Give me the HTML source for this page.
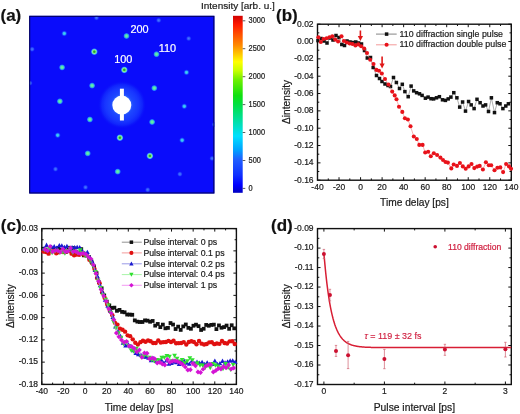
<!DOCTYPE html><html><head><meta charset="utf-8"><style>html,body{margin:0;padding:0;background:#fff;width:520px;height:414px;overflow:hidden;font-family:"Liberation Sans",sans-serif}svg{display:block;filter:blur(0.35px)}</style></head><body>
<svg width="520" height="414" viewBox="0 0 520 414" font-family="&apos;Liberation Sans&apos;, sans-serif">
<rect width="520" height="414" fill="#fff"/>
<defs>
<linearGradient id="cb" x1="0" y1="0" x2="0" y2="1">
<stop offset="0" stop-color="#d00000"/>
<stop offset="0.05" stop-color="#ff1a00"/>
<stop offset="0.11" stop-color="#ff5500"/>
<stop offset="0.165" stop-color="#ff8800"/>
<stop offset="0.22" stop-color="#ffcc00"/>
<stop offset="0.26" stop-color="#ffff00"/>
<stop offset="0.31" stop-color="#c8ff00"/>
<stop offset="0.36" stop-color="#70f000"/>
<stop offset="0.45" stop-color="#10e010"/>
<stop offset="0.5" stop-color="#00e040"/>
<stop offset="0.59" stop-color="#00e0a0"/>
<stop offset="0.68" stop-color="#00e0ff"/>
<stop offset="0.76" stop-color="#00a0ff"/>
<stop offset="0.81" stop-color="#2060ff"/>
<stop offset="0.9" stop-color="#1030ff"/>
<stop offset="0.956" stop-color="#0000ff"/>
<stop offset="1" stop-color="#0000c0"/>
</linearGradient>
<radialGradient id="sR"><stop offset="0" stop-color="#109a30"/><stop offset="0.22" stop-color="#30b040"/><stop offset="0.45" stop-color="#90f080"/><stop offset="0.68" stop-color="#40b0ff"/><stop offset="1" stop-color="#0a14ff" stop-opacity="0"/></radialGradient>
<radialGradient id="sG"><stop offset="0" stop-color="#70f0a0"/><stop offset="0.4" stop-color="#50e0b0"/><stop offset="0.7" stop-color="#2080ff"/><stop offset="1" stop-color="#0a14ff" stop-opacity="0"/></radialGradient>
<radialGradient id="sL"><stop offset="0" stop-color="#48e0d8"/><stop offset="0.4" stop-color="#30b0ff"/><stop offset="1" stop-color="#0a14ff" stop-opacity="0"/></radialGradient>
<radialGradient id="sF"><stop offset="0" stop-color="#4a7cff"/><stop offset="0.5" stop-color="#2a50ff"/><stop offset="1" stop-color="#0a14ff" stop-opacity="0"/></radialGradient>
<radialGradient id="glow"><stop offset="0.38" stop-color="#3064ff"/><stop offset="0.46" stop-color="#1e48ff"/><stop offset="0.7" stop-color="#1836ff"/><stop offset="0.85" stop-color="#1024fc"/><stop offset="1" stop-color="#0a10fa" stop-opacity="0"/></radialGradient>
</defs>
<text x="0.5" y="21.1" font-size="17" text-anchor="start" fill="#111" stroke="#111" stroke-width="0.2" font-weight="bold">(a)</text>
<rect x="29.2" y="15.8" width="185.2" height="177.7" fill="#0a0cfb"/>
<rect x="122.1" y="103.8" width="0" height="0"/>
<circle cx="122" cy="104.8" r="24" fill="url(#glow)"/>
<g clip-path="url(#sqclip)">
<circle cx="147.7" cy="189.8" r="3.0" fill="url(#sF)"/>
<circle cx="179.9" cy="174.1" r="3.0" fill="url(#sF)"/>
<circle cx="212.1" cy="158.4" r="3.0" fill="url(#sF)"/>
<circle cx="85.5" cy="187.3" r="3.0" fill="url(#sF)"/>
<circle cx="117.7" cy="171.6" r="3.5" fill="url(#sG)"/>
<circle cx="149.9" cy="155.9" r="3.9" fill="url(#sR)"/>
<circle cx="182.1" cy="140.2" r="3.3" fill="url(#sL)"/>
<circle cx="214.3" cy="124.5" r="3.0" fill="url(#sF)"/>
<circle cx="55.5" cy="169.1" r="3.0" fill="url(#sF)"/>
<circle cx="87.7" cy="153.4" r="3.5" fill="url(#sG)"/>
<circle cx="119.9" cy="137.7" r="3.9" fill="url(#sR)"/>
<circle cx="152.1" cy="122" r="3.5" fill="url(#sG)"/>
<circle cx="184.3" cy="106.3" r="3.3" fill="url(#sL)"/>
<circle cx="57.7" cy="135.2" r="3.3" fill="url(#sL)"/>
<circle cx="89.9" cy="119.5" r="3.5" fill="url(#sG)"/>
<circle cx="154.3" cy="88.1" r="3.5" fill="url(#sG)"/>
<circle cx="186.5" cy="72.4" r="3.3" fill="url(#sL)"/>
<circle cx="59.9" cy="101.3" r="3.5" fill="url(#sG)"/>
<circle cx="92.1" cy="85.6" r="3.5" fill="url(#sG)"/>
<circle cx="124.3" cy="69.9" r="3.9" fill="url(#sR)"/>
<circle cx="156.5" cy="54.2" r="3.5" fill="url(#sG)"/>
<circle cx="188.7" cy="38.5" r="3.0" fill="url(#sF)"/>
<circle cx="29.9" cy="83.1" r="3.0" fill="url(#sF)"/>
<circle cx="62.1" cy="67.4" r="3.5" fill="url(#sG)"/>
<circle cx="94.3" cy="51.7" r="3.9" fill="url(#sR)"/>
<circle cx="126.5" cy="36" r="3.5" fill="url(#sG)"/>
<circle cx="158.7" cy="20.3" r="3.0" fill="url(#sF)"/>
<circle cx="32.1" cy="49.2" r="3.0" fill="url(#sF)"/>
<circle cx="64.3" cy="33.5" r="3.3" fill="url(#sL)"/>
<circle cx="96.5" cy="17.8" r="3.0" fill="url(#sF)"/>
</g>
<defs><clipPath id="sqclip"><rect x="29.2" y="15.8" width="185.2" height="177.7"/></clipPath></defs>
<rect x="119.9" y="88.7" width="4" height="31.8" fill="#fff"/>
<circle cx="121.8" cy="105.1" r="9.5" fill="#fff"/>
<rect x="29.7" y="16.3" width="184.2" height="176.7" fill="none" stroke="#000050" stroke-width="1"/>
<text x="130.5" y="33.4" font-size="10.9" text-anchor="start" fill="#fff" stroke="#fff" stroke-width="0.2" >200</text>
<text x="158.8" y="52.3" font-size="10.9" text-anchor="start" fill="#fff" stroke="#fff" stroke-width="0.2" >110</text>
<text x="114.2" y="63" font-size="10.9" text-anchor="start" fill="#fff" stroke="#fff" stroke-width="0.2" >100</text>
<rect x="233" y="15.8" width="9.7" height="177" fill="url(#cb)"/>
<path d="M242.7 20.8h2.6M242.7 48.7h2.6M242.7 76.7h2.6M242.7 104.6h2.6M242.7 132.5h2.6M242.7 160.5h2.6M242.7 188.4h2.6" stroke="#333" stroke-width="0.8"/>
<text transform="translate(248.6 23.4) scale(1 1.1)" font-size="7.4" text-anchor="start" fill="#222" stroke="#222" stroke-width="0.2" >3000</text>
<text transform="translate(248.6 51.3) scale(1 1.1)" font-size="7.4" text-anchor="start" fill="#222" stroke="#222" stroke-width="0.2" >2500</text>
<text transform="translate(248.6 79.3) scale(1 1.1)" font-size="7.4" text-anchor="start" fill="#222" stroke="#222" stroke-width="0.2" >2000</text>
<text transform="translate(248.6 107.2) scale(1 1.1)" font-size="7.4" text-anchor="start" fill="#222" stroke="#222" stroke-width="0.2" >1500</text>
<text transform="translate(248.6 135.1) scale(1 1.1)" font-size="7.4" text-anchor="start" fill="#222" stroke="#222" stroke-width="0.2" >1000</text>
<text transform="translate(248.6 163.1) scale(1 1.1)" font-size="7.4" text-anchor="start" fill="#222" stroke="#222" stroke-width="0.2" >500</text>
<text transform="translate(248.6 191) scale(1 1.1)" font-size="7.4" text-anchor="start" fill="#222" stroke="#222" stroke-width="0.2" >0</text>
<text transform="translate(201 9.3) scale(1 0.9)" font-size="10" text-anchor="start" fill="#1a1a1a" stroke="#1a1a1a" stroke-width="0.2" >Intensity [arb. u.]</text>
<path d="M317.5 180.2v-3M317.5 24.2v3M339.03 180.2v-3M339.03 24.2v3M360.57 180.2v-3M360.57 24.2v3M382.1 180.2v-3M382.1 24.2v3M403.63 180.2v-3M403.63 24.2v3M425.17 180.2v-3M425.17 24.2v3M446.7 180.2v-3M446.7 24.2v3M468.23 180.2v-3M468.23 24.2v3M489.77 180.2v-3M489.77 24.2v3M511.3 180.2v-3M511.3 24.2v3M328.27 180.2v-1.8M328.27 24.2v1.8M349.8 180.2v-1.8M349.8 24.2v1.8M371.33 180.2v-1.8M371.33 24.2v1.8M392.87 180.2v-1.8M392.87 24.2v1.8M414.4 180.2v-1.8M414.4 24.2v1.8M435.93 180.2v-1.8M435.93 24.2v1.8M457.47 180.2v-1.8M457.47 24.2v1.8M479 180.2v-1.8M479 24.2v1.8M500.53 180.2v-1.8M500.53 24.2v1.8M317.5 24.2h3M511.3 24.2h-3M317.5 41.53h3M511.3 41.53h-3M317.5 58.87h3M511.3 58.87h-3M317.5 76.2h3M511.3 76.2h-3M317.5 93.53h3M511.3 93.53h-3M317.5 110.87h3M511.3 110.87h-3M317.5 128.2h3M511.3 128.2h-3M317.5 145.53h3M511.3 145.53h-3M317.5 162.87h3M511.3 162.87h-3M317.5 180.2h3M511.3 180.2h-3M317.5 32.87h1.8M511.3 32.87h-1.8M317.5 50.2h1.8M511.3 50.2h-1.8M317.5 67.53h1.8M511.3 67.53h-1.8M317.5 84.87h1.8M511.3 84.87h-1.8M317.5 102.2h1.8M511.3 102.2h-1.8M317.5 119.53h1.8M511.3 119.53h-1.8M317.5 136.87h1.8M511.3 136.87h-1.8M317.5 154.2h1.8M511.3 154.2h-1.8M317.5 171.53h1.8M511.3 171.53h-1.8" stroke="#111" stroke-width="1" fill="none"/>
<rect x="317.5" y="24.2" width="193.8" height="156" fill="none" stroke="#111" stroke-width="1.4"/>
<text transform="translate(317.5 190) scale(1 1.1)" font-size="8.5" text-anchor="middle" fill="#1a1a1a" stroke="#1a1a1a" stroke-width="0.2" >-40</text>
<text transform="translate(339.03 190) scale(1 1.1)" font-size="8.5" text-anchor="middle" fill="#1a1a1a" stroke="#1a1a1a" stroke-width="0.2" >-20</text>
<text transform="translate(360.57 190) scale(1 1.1)" font-size="8.5" text-anchor="middle" fill="#1a1a1a" stroke="#1a1a1a" stroke-width="0.2" >0</text>
<text transform="translate(382.1 190) scale(1 1.1)" font-size="8.5" text-anchor="middle" fill="#1a1a1a" stroke="#1a1a1a" stroke-width="0.2" >20</text>
<text transform="translate(403.63 190) scale(1 1.1)" font-size="8.5" text-anchor="middle" fill="#1a1a1a" stroke="#1a1a1a" stroke-width="0.2" >40</text>
<text transform="translate(425.17 190) scale(1 1.1)" font-size="8.5" text-anchor="middle" fill="#1a1a1a" stroke="#1a1a1a" stroke-width="0.2" >60</text>
<text transform="translate(446.7 190) scale(1 1.1)" font-size="8.5" text-anchor="middle" fill="#1a1a1a" stroke="#1a1a1a" stroke-width="0.2" >80</text>
<text transform="translate(468.23 190) scale(1 1.1)" font-size="8.5" text-anchor="middle" fill="#1a1a1a" stroke="#1a1a1a" stroke-width="0.2" >100</text>
<text transform="translate(489.77 190) scale(1 1.1)" font-size="8.5" text-anchor="middle" fill="#1a1a1a" stroke="#1a1a1a" stroke-width="0.2" >120</text>
<text transform="translate(511.3 190) scale(1 1.1)" font-size="8.5" text-anchor="middle" fill="#1a1a1a" stroke="#1a1a1a" stroke-width="0.2" >140</text>
<text transform="translate(313.6 26.5) scale(1 1.07)" font-size="8.5" text-anchor="end" fill="#1a1a1a" stroke="#1a1a1a" stroke-width="0.2" >0.02</text>
<text transform="translate(313.6 43.83) scale(1 1.07)" font-size="8.5" text-anchor="end" fill="#1a1a1a" stroke="#1a1a1a" stroke-width="0.2" >0.00</text>
<text transform="translate(313.6 61.17) scale(1 1.07)" font-size="8.5" text-anchor="end" fill="#1a1a1a" stroke="#1a1a1a" stroke-width="0.2" >-0.02</text>
<text transform="translate(313.6 78.5) scale(1 1.07)" font-size="8.5" text-anchor="end" fill="#1a1a1a" stroke="#1a1a1a" stroke-width="0.2" >-0.04</text>
<text transform="translate(313.6 95.83) scale(1 1.07)" font-size="8.5" text-anchor="end" fill="#1a1a1a" stroke="#1a1a1a" stroke-width="0.2" >-0.06</text>
<text transform="translate(313.6 113.17) scale(1 1.07)" font-size="8.5" text-anchor="end" fill="#1a1a1a" stroke="#1a1a1a" stroke-width="0.2" >-0.08</text>
<text transform="translate(313.6 130.5) scale(1 1.07)" font-size="8.5" text-anchor="end" fill="#1a1a1a" stroke="#1a1a1a" stroke-width="0.2" >-0.10</text>
<text transform="translate(313.6 147.83) scale(1 1.07)" font-size="8.5" text-anchor="end" fill="#1a1a1a" stroke="#1a1a1a" stroke-width="0.2" >-0.12</text>
<text transform="translate(313.6 165.17) scale(1 1.07)" font-size="8.5" text-anchor="end" fill="#1a1a1a" stroke="#1a1a1a" stroke-width="0.2" >-0.14</text>
<text transform="translate(313.6 182.5) scale(1 1.07)" font-size="8.5" text-anchor="end" fill="#1a1a1a" stroke="#1a1a1a" stroke-width="0.2" >-0.16</text>
<text x="414.4" y="205.9" font-size="10.2" text-anchor="middle" fill="#1a1a1a" stroke="#1a1a1a" stroke-width="0.2" >Time delay [ps]</text>
<text transform="translate(289.7 101.9) rotate(-90)" font-size="10.2" text-anchor="middle" fill="#1a1a1a" stroke="#1a1a1a" stroke-width="0.2">Δintensity</text>
<text x="276" y="21.4" font-size="17" text-anchor="start" fill="#111" stroke="#111" stroke-width="0.2" font-weight="bold">(b)</text>
<path d="M318 40.6 L321 38.5 L324 41 L327 43 L330 38 L333 40 L336 35.5 L339 37.5 L341.8 44.5 L344.5 45.5 L347 41 L350 42 L353 42.5 L355.8 42 L358.6 43 L361.5 44 L364.5 50.5 L367.3 58 L370.5 57.5 L373.2 67.5 L376.5 75.5 L379.5 78.5 L382 81.5 L385 84 L388 85.5 L390.5 86.5 L393.5 77.5 L396.4 82.5 L399.5 88.5 L402.3 84.3 L404.9 91.6 L408.2 96.7 L411.1 86.1 L413.7 90.9 L416.6 92.7 L419.5 93.8 L422.1 95.4 L425.4 98.2 L428.1 97.1 L431 98.7 L433.6 98.9 L436.5 97.8 L439.4 96.7 L442.5 99.8 L445.4 100.4 L448.2 98.9 L450.9 97.1 L453.8 92.7 L456.9 97.8 L459.7 107.1 L462.6 102 L465.5 111.1 L468.6 101.5 L471.2 104.9 L474.1 108.6 L477 99.3 L480.1 102.7 L483 106 L485.6 104.9 L488.5 111.5 L491.4 97.8 L494.5 112.6 L497.3 102.7 L500 103.8 L502.9 108.6 L505.8 106 L508.4 103.8" fill="none" stroke="#777" stroke-width="0.6"/>
<rect x="316.25" y="38.85" width="3.5" height="3.5" fill="#111"/><rect x="319.25" y="36.75" width="3.5" height="3.5" fill="#111"/><rect x="322.25" y="39.25" width="3.5" height="3.5" fill="#111"/><rect x="325.25" y="41.25" width="3.5" height="3.5" fill="#111"/><rect x="328.25" y="36.25" width="3.5" height="3.5" fill="#111"/><rect x="331.25" y="38.25" width="3.5" height="3.5" fill="#111"/><rect x="334.25" y="33.75" width="3.5" height="3.5" fill="#111"/><rect x="337.25" y="35.75" width="3.5" height="3.5" fill="#111"/><rect x="340.05" y="42.75" width="3.5" height="3.5" fill="#111"/><rect x="342.75" y="43.75" width="3.5" height="3.5" fill="#111"/><rect x="345.25" y="39.25" width="3.5" height="3.5" fill="#111"/><rect x="348.25" y="40.25" width="3.5" height="3.5" fill="#111"/><rect x="351.25" y="40.75" width="3.5" height="3.5" fill="#111"/><rect x="354.05" y="40.25" width="3.5" height="3.5" fill="#111"/><rect x="356.85" y="41.25" width="3.5" height="3.5" fill="#111"/><rect x="359.75" y="42.25" width="3.5" height="3.5" fill="#111"/><rect x="362.75" y="48.75" width="3.5" height="3.5" fill="#111"/><rect x="365.55" y="56.25" width="3.5" height="3.5" fill="#111"/><rect x="368.75" y="55.75" width="3.5" height="3.5" fill="#111"/><rect x="371.45" y="65.75" width="3.5" height="3.5" fill="#111"/><rect x="374.75" y="73.75" width="3.5" height="3.5" fill="#111"/><rect x="377.75" y="76.75" width="3.5" height="3.5" fill="#111"/><rect x="380.25" y="79.75" width="3.5" height="3.5" fill="#111"/><rect x="383.25" y="82.25" width="3.5" height="3.5" fill="#111"/><rect x="386.25" y="83.75" width="3.5" height="3.5" fill="#111"/><rect x="388.75" y="84.75" width="3.5" height="3.5" fill="#111"/><rect x="391.75" y="75.75" width="3.5" height="3.5" fill="#111"/><rect x="394.65" y="80.75" width="3.5" height="3.5" fill="#111"/><rect x="397.75" y="86.75" width="3.5" height="3.5" fill="#111"/><rect x="400.55" y="82.55" width="3.5" height="3.5" fill="#111"/><rect x="403.15" y="89.85" width="3.5" height="3.5" fill="#111"/><rect x="406.45" y="94.95" width="3.5" height="3.5" fill="#111"/><rect x="409.35" y="84.35" width="3.5" height="3.5" fill="#111"/><rect x="411.95" y="89.15" width="3.5" height="3.5" fill="#111"/><rect x="414.85" y="90.95" width="3.5" height="3.5" fill="#111"/><rect x="417.75" y="92.05" width="3.5" height="3.5" fill="#111"/><rect x="420.35" y="93.65" width="3.5" height="3.5" fill="#111"/><rect x="423.65" y="96.45" width="3.5" height="3.5" fill="#111"/><rect x="426.35" y="95.35" width="3.5" height="3.5" fill="#111"/><rect x="429.25" y="96.95" width="3.5" height="3.5" fill="#111"/><rect x="431.85" y="97.15" width="3.5" height="3.5" fill="#111"/><rect x="434.75" y="96.05" width="3.5" height="3.5" fill="#111"/><rect x="437.65" y="94.95" width="3.5" height="3.5" fill="#111"/><rect x="440.75" y="98.05" width="3.5" height="3.5" fill="#111"/><rect x="443.65" y="98.65" width="3.5" height="3.5" fill="#111"/><rect x="446.45" y="97.15" width="3.5" height="3.5" fill="#111"/><rect x="449.15" y="95.35" width="3.5" height="3.5" fill="#111"/><rect x="452.05" y="90.95" width="3.5" height="3.5" fill="#111"/><rect x="455.15" y="96.05" width="3.5" height="3.5" fill="#111"/><rect x="457.95" y="105.35" width="3.5" height="3.5" fill="#111"/><rect x="460.85" y="100.25" width="3.5" height="3.5" fill="#111"/><rect x="463.75" y="109.35" width="3.5" height="3.5" fill="#111"/><rect x="466.85" y="99.75" width="3.5" height="3.5" fill="#111"/><rect x="469.45" y="103.15" width="3.5" height="3.5" fill="#111"/><rect x="472.35" y="106.85" width="3.5" height="3.5" fill="#111"/><rect x="475.25" y="97.55" width="3.5" height="3.5" fill="#111"/><rect x="478.35" y="100.95" width="3.5" height="3.5" fill="#111"/><rect x="481.25" y="104.25" width="3.5" height="3.5" fill="#111"/><rect x="483.85" y="103.15" width="3.5" height="3.5" fill="#111"/><rect x="486.75" y="109.75" width="3.5" height="3.5" fill="#111"/><rect x="489.65" y="96.05" width="3.5" height="3.5" fill="#111"/><rect x="492.75" y="110.85" width="3.5" height="3.5" fill="#111"/><rect x="495.55" y="100.95" width="3.5" height="3.5" fill="#111"/><rect x="498.25" y="102.05" width="3.5" height="3.5" fill="#111"/><rect x="501.15" y="106.85" width="3.5" height="3.5" fill="#111"/><rect x="504.05" y="104.25" width="3.5" height="3.5" fill="#111"/><rect x="506.65" y="102.05" width="3.5" height="3.5" fill="#111"/>
<path d="M318.4 37.2 L320.8 42 L323.5 39 L326.6 38.2 L329.5 37.2 L332.3 36.3 L335.2 39.6 L338.1 41.5 L341.5 36.3 L343.9 41 L346.8 42.5 L349.7 43.5 L352.5 44 L355.4 45.4 L358.3 44.4 L361.2 46.3 L364.2 48.5 L367 53 L370.2 59.8 L373.5 64 L376.4 69.9 L379 70.7 L381.8 73.5 L385 79 L388.5 84.5 L392.2 91.6 L394.7 95.4 L396.5 99.2 L399 106.8 L402.3 111.9 L404.9 118.2 L407.9 119.5 L410.5 126.3 L413.8 136.5 L416.8 139 L419.3 144.9 L422.6 144.9 L425.2 152.5 L428.2 151.7 L430.8 156.3 L433.8 153.2 L437.1 155 L440.4 157.6 L443 160 L445.5 162 L447.9 162.6 L451.3 168.4 L453.7 164.5 L457 165.9 L459.9 163 L462.8 166.4 L465.7 168.8 L468.6 166.4 L471.5 164 L474.3 168.1 L477.2 166.6 L479.7 165.9 L482.9 169.5 L485.9 162.3 L488.8 165.2 L491.2 165.2 L494.5 170.3 L497.4 167.8 L500.3 167.4 L503.1 172.1 L506.1 164 L509 166.4 L511 168.8" fill="none" stroke="#f08080" stroke-width="0.6"/>
<circle cx="318.4" cy="37.2" r="2.05" fill="#e8121a"/><circle cx="320.8" cy="42" r="2.05" fill="#e8121a"/><circle cx="323.5" cy="39" r="2.05" fill="#e8121a"/><circle cx="326.6" cy="38.2" r="2.05" fill="#e8121a"/><circle cx="329.5" cy="37.2" r="2.05" fill="#e8121a"/><circle cx="332.3" cy="36.3" r="2.05" fill="#e8121a"/><circle cx="335.2" cy="39.6" r="2.05" fill="#e8121a"/><circle cx="338.1" cy="41.5" r="2.05" fill="#e8121a"/><circle cx="341.5" cy="36.3" r="2.05" fill="#e8121a"/><circle cx="343.9" cy="41" r="2.05" fill="#e8121a"/><circle cx="346.8" cy="42.5" r="2.05" fill="#e8121a"/><circle cx="349.7" cy="43.5" r="2.05" fill="#e8121a"/><circle cx="352.5" cy="44" r="2.05" fill="#e8121a"/><circle cx="355.4" cy="45.4" r="2.05" fill="#e8121a"/><circle cx="358.3" cy="44.4" r="2.05" fill="#e8121a"/><circle cx="361.2" cy="46.3" r="2.05" fill="#e8121a"/><circle cx="364.2" cy="48.5" r="2.05" fill="#e8121a"/><circle cx="367" cy="53" r="2.05" fill="#e8121a"/><circle cx="370.2" cy="59.8" r="2.05" fill="#e8121a"/><circle cx="373.5" cy="64" r="2.05" fill="#e8121a"/><circle cx="376.4" cy="69.9" r="2.05" fill="#e8121a"/><circle cx="379" cy="70.7" r="2.05" fill="#e8121a"/><circle cx="381.8" cy="73.5" r="2.05" fill="#e8121a"/><circle cx="385" cy="79" r="2.05" fill="#e8121a"/><circle cx="388.5" cy="84.5" r="2.05" fill="#e8121a"/><circle cx="392.2" cy="91.6" r="2.05" fill="#e8121a"/><circle cx="394.7" cy="95.4" r="2.05" fill="#e8121a"/><circle cx="396.5" cy="99.2" r="2.05" fill="#e8121a"/><circle cx="399" cy="106.8" r="2.05" fill="#e8121a"/><circle cx="402.3" cy="111.9" r="2.05" fill="#e8121a"/><circle cx="404.9" cy="118.2" r="2.05" fill="#e8121a"/><circle cx="407.9" cy="119.5" r="2.05" fill="#e8121a"/><circle cx="410.5" cy="126.3" r="2.05" fill="#e8121a"/><circle cx="413.8" cy="136.5" r="2.05" fill="#e8121a"/><circle cx="416.8" cy="139" r="2.05" fill="#e8121a"/><circle cx="419.3" cy="144.9" r="2.05" fill="#e8121a"/><circle cx="422.6" cy="144.9" r="2.05" fill="#e8121a"/><circle cx="425.2" cy="152.5" r="2.05" fill="#e8121a"/><circle cx="428.2" cy="151.7" r="2.05" fill="#e8121a"/><circle cx="430.8" cy="156.3" r="2.05" fill="#e8121a"/><circle cx="433.8" cy="153.2" r="2.05" fill="#e8121a"/><circle cx="437.1" cy="155" r="2.05" fill="#e8121a"/><circle cx="440.4" cy="157.6" r="2.05" fill="#e8121a"/><circle cx="443" cy="160" r="2.05" fill="#e8121a"/><circle cx="445.5" cy="162" r="2.05" fill="#e8121a"/><circle cx="447.9" cy="162.6" r="2.05" fill="#e8121a"/><circle cx="451.3" cy="168.4" r="2.05" fill="#e8121a"/><circle cx="453.7" cy="164.5" r="2.05" fill="#e8121a"/><circle cx="457" cy="165.9" r="2.05" fill="#e8121a"/><circle cx="459.9" cy="163" r="2.05" fill="#e8121a"/><circle cx="462.8" cy="166.4" r="2.05" fill="#e8121a"/><circle cx="465.7" cy="168.8" r="2.05" fill="#e8121a"/><circle cx="468.6" cy="166.4" r="2.05" fill="#e8121a"/><circle cx="471.5" cy="164" r="2.05" fill="#e8121a"/><circle cx="474.3" cy="168.1" r="2.05" fill="#e8121a"/><circle cx="477.2" cy="166.6" r="2.05" fill="#e8121a"/><circle cx="479.7" cy="165.9" r="2.05" fill="#e8121a"/><circle cx="482.9" cy="169.5" r="2.05" fill="#e8121a"/><circle cx="485.9" cy="162.3" r="2.05" fill="#e8121a"/><circle cx="488.8" cy="165.2" r="2.05" fill="#e8121a"/><circle cx="491.2" cy="165.2" r="2.05" fill="#e8121a"/><circle cx="494.5" cy="170.3" r="2.05" fill="#e8121a"/><circle cx="497.4" cy="167.8" r="2.05" fill="#e8121a"/><circle cx="500.3" cy="167.4" r="2.05" fill="#e8121a"/><circle cx="503.1" cy="172.1" r="2.05" fill="#e8121a"/><circle cx="506.1" cy="164" r="2.05" fill="#e8121a"/><circle cx="509" cy="166.4" r="2.05" fill="#e8121a"/><circle cx="511" cy="168.8" r="2.05" fill="#e8121a"/>
<path d="M360.4 30.5V38" stroke="#e01818" stroke-width="1.6"/>
<path d="M357.79999999999995 36L360.4 41L363.0 36Z" fill="#e01818"/>
<path d="M382.1 56.5V65.5" stroke="#e01818" stroke-width="1.6"/>
<path d="M379.5 63.5L382.1 68.5L384.70000000000005 63.5Z" fill="#e01818"/>
<path d="M376 34.1h20.7" stroke="#666" stroke-width="0.8"/><rect x="384.85" y="32.35" width="3.5" height="3.5" fill="#111"/>
<path d="M376 44.8h20.7" stroke="#f08080" stroke-width="0.8"/><circle cx="386.6" cy="44.8" r="2.05" fill="#e8121a"/>
<text transform="translate(399.6 36.9) scale(1 1.07)" font-size="8.8" text-anchor="start" fill="#1a1a1a" stroke="#1a1a1a" stroke-width="0.2" >110 diffraction single pulse</text>
<text transform="translate(399.6 47.4) scale(1 1.07)" font-size="8.8" text-anchor="start" fill="#1a1a1a" stroke="#1a1a1a" stroke-width="0.2" >110 diffraction double pulse</text>
<path d="M41.8 384.4v-3M41.8 228.6v3M63.42 384.4v-3M63.42 228.6v3M85.04 384.4v-3M85.04 228.6v3M106.67 384.4v-3M106.67 228.6v3M128.29 384.4v-3M128.29 228.6v3M149.91 384.4v-3M149.91 228.6v3M171.53 384.4v-3M171.53 228.6v3M193.16 384.4v-3M193.16 228.6v3M214.78 384.4v-3M214.78 228.6v3M236.4 384.4v-3M236.4 228.6v3M52.61 384.4v-1.8M52.61 228.6v1.8M74.23 384.4v-1.8M74.23 228.6v1.8M95.86 384.4v-1.8M95.86 228.6v1.8M117.48 384.4v-1.8M117.48 228.6v1.8M139.1 384.4v-1.8M139.1 228.6v1.8M160.72 384.4v-1.8M160.72 228.6v1.8M182.34 384.4v-1.8M182.34 228.6v1.8M203.97 384.4v-1.8M203.97 228.6v1.8M225.59 384.4v-1.8M225.59 228.6v1.8M41.8 228.6h3M236.4 228.6h-3M41.8 250.86h3M236.4 250.86h-3M41.8 273.11h3M236.4 273.11h-3M41.8 295.37h3M236.4 295.37h-3M41.8 317.63h3M236.4 317.63h-3M41.8 339.89h3M236.4 339.89h-3M41.8 362.14h3M236.4 362.14h-3M41.8 384.4h3M236.4 384.4h-3M41.8 239.73h1.8M236.4 239.73h-1.8M41.8 261.99h1.8M236.4 261.99h-1.8M41.8 284.24h1.8M236.4 284.24h-1.8M41.8 306.5h1.8M236.4 306.5h-1.8M41.8 328.76h1.8M236.4 328.76h-1.8M41.8 351.01h1.8M236.4 351.01h-1.8M41.8 373.27h1.8M236.4 373.27h-1.8" stroke="#111" stroke-width="1" fill="none"/>
<rect x="41.8" y="228.6" width="194.6" height="155.8" fill="none" stroke="#111" stroke-width="1.4"/>
<text transform="translate(41.8 394.3) scale(1 1.1)" font-size="8.5" text-anchor="middle" fill="#1a1a1a" stroke="#1a1a1a" stroke-width="0.2" >-40</text>
<text transform="translate(63.42 394.3) scale(1 1.1)" font-size="8.5" text-anchor="middle" fill="#1a1a1a" stroke="#1a1a1a" stroke-width="0.2" >-20</text>
<text transform="translate(85.04 394.3) scale(1 1.1)" font-size="8.5" text-anchor="middle" fill="#1a1a1a" stroke="#1a1a1a" stroke-width="0.2" >0</text>
<text transform="translate(106.67 394.3) scale(1 1.1)" font-size="8.5" text-anchor="middle" fill="#1a1a1a" stroke="#1a1a1a" stroke-width="0.2" >20</text>
<text transform="translate(128.29 394.3) scale(1 1.1)" font-size="8.5" text-anchor="middle" fill="#1a1a1a" stroke="#1a1a1a" stroke-width="0.2" >40</text>
<text transform="translate(149.91 394.3) scale(1 1.1)" font-size="8.5" text-anchor="middle" fill="#1a1a1a" stroke="#1a1a1a" stroke-width="0.2" >60</text>
<text transform="translate(171.53 394.3) scale(1 1.1)" font-size="8.5" text-anchor="middle" fill="#1a1a1a" stroke="#1a1a1a" stroke-width="0.2" >80</text>
<text transform="translate(193.16 394.3) scale(1 1.1)" font-size="8.5" text-anchor="middle" fill="#1a1a1a" stroke="#1a1a1a" stroke-width="0.2" >100</text>
<text transform="translate(214.78 394.3) scale(1 1.1)" font-size="8.5" text-anchor="middle" fill="#1a1a1a" stroke="#1a1a1a" stroke-width="0.2" >120</text>
<text transform="translate(236.4 394.3) scale(1 1.1)" font-size="8.5" text-anchor="middle" fill="#1a1a1a" stroke="#1a1a1a" stroke-width="0.2" >140</text>
<text transform="translate(38.1 230.9) scale(1 1.07)" font-size="8.5" text-anchor="end" fill="#1a1a1a" stroke="#1a1a1a" stroke-width="0.2" >0.03</text>
<text transform="translate(38.1 253.16) scale(1 1.07)" font-size="8.5" text-anchor="end" fill="#1a1a1a" stroke="#1a1a1a" stroke-width="0.2" >0.00</text>
<text transform="translate(38.1 275.41) scale(1 1.07)" font-size="8.5" text-anchor="end" fill="#1a1a1a" stroke="#1a1a1a" stroke-width="0.2" >-0.03</text>
<text transform="translate(38.1 297.67) scale(1 1.07)" font-size="8.5" text-anchor="end" fill="#1a1a1a" stroke="#1a1a1a" stroke-width="0.2" >-0.06</text>
<text transform="translate(38.1 319.93) scale(1 1.07)" font-size="8.5" text-anchor="end" fill="#1a1a1a" stroke="#1a1a1a" stroke-width="0.2" >-0.09</text>
<text transform="translate(38.1 342.19) scale(1 1.07)" font-size="8.5" text-anchor="end" fill="#1a1a1a" stroke="#1a1a1a" stroke-width="0.2" >-0.12</text>
<text transform="translate(38.1 364.44) scale(1 1.07)" font-size="8.5" text-anchor="end" fill="#1a1a1a" stroke="#1a1a1a" stroke-width="0.2" >-0.15</text>
<text transform="translate(38.1 386.7) scale(1 1.07)" font-size="8.5" text-anchor="end" fill="#1a1a1a" stroke="#1a1a1a" stroke-width="0.2" >-0.18</text>
<text x="139" y="411.2" font-size="10.2" text-anchor="middle" fill="#1a1a1a" stroke="#1a1a1a" stroke-width="0.2" >Time delay [ps]</text>
<text transform="translate(14 306.2) rotate(-90)" font-size="10.1" text-anchor="middle" fill="#1a1a1a" stroke="#1a1a1a" stroke-width="0.2">Δintensity</text>
<text x="0.8" y="231.3" font-size="17" text-anchor="start" fill="#111" stroke="#111" stroke-width="0.2" font-weight="bold">(c)</text>
<path d="M43 248.76 L45.55 249.52 L48.1 251.82 L50.65 249.19 L53.2 249.56 L55.75 250.15 L58.3 247.85 L60.85 249.93 L63.4 250.75 L65.95 251.85 L68.5 247.77 L71.05 249.14 L73.6 247.98 L76.15 252.61 L78.7 252.48 L81.25 249.14 L83.8 255.35 L86.35 255.36 L88.9 256.96 L91.45 261.47 L94 266.47 L96.55 273.2 L99.1 282.37 L101.65 288.3 L104.2 295.42 L106.75 301.63 L109.3 305.42 L111.85 307.89 L114.4 307.64 L116.95 310.83 L119.5 309.91 L122.05 311.87 L124.6 312.3 L127.15 314.55 L129.7 314.59 L132.25 314.79 L134.8 320.39 L137.35 321.65 L139.9 321.99 L142.45 321.98 L145 320.39 L147.55 320.64 L150.1 321.75 L152.65 320.95 L155.2 325.64 L157.75 323.95 L160.3 327.11 L162.85 324.6 L165.4 328.29 L167.95 327.88 L170.5 323.05 L173.05 324.56 L175.6 329.02 L178.15 326.63 L180.7 329.89 L183.25 326.41 L185.8 324.49 L188.35 327.85 L190.9 328.77 L193.45 325.74 L196 324.67 L198.55 326.16 L201.1 329.97 L203.65 328.76 L206.2 324.94 L208.75 325.74 L211.3 324.89 L213.85 324.66 L216.4 329.11 L218.95 325.41 L221.5 327.73 L224.05 327.08 L226.6 325.56 L229.15 328.83 L231.7 325.25 L234.25 328.35" fill="none" stroke="#777" stroke-width="0.5"/>
<rect x="41.11" y="246.87" width="3.78" height="3.78" fill="#111"/><rect x="43.66" y="247.63" width="3.78" height="3.78" fill="#111"/><rect x="46.21" y="249.93" width="3.78" height="3.78" fill="#111"/><rect x="48.76" y="247.3" width="3.78" height="3.78" fill="#111"/><rect x="51.31" y="247.67" width="3.78" height="3.78" fill="#111"/><rect x="53.86" y="248.26" width="3.78" height="3.78" fill="#111"/><rect x="56.41" y="245.96" width="3.78" height="3.78" fill="#111"/><rect x="58.96" y="248.04" width="3.78" height="3.78" fill="#111"/><rect x="61.51" y="248.86" width="3.78" height="3.78" fill="#111"/><rect x="64.06" y="249.96" width="3.78" height="3.78" fill="#111"/><rect x="66.61" y="245.88" width="3.78" height="3.78" fill="#111"/><rect x="69.16" y="247.25" width="3.78" height="3.78" fill="#111"/><rect x="71.71" y="246.09" width="3.78" height="3.78" fill="#111"/><rect x="74.26" y="250.72" width="3.78" height="3.78" fill="#111"/><rect x="76.81" y="250.59" width="3.78" height="3.78" fill="#111"/><rect x="79.36" y="247.25" width="3.78" height="3.78" fill="#111"/><rect x="81.91" y="253.46" width="3.78" height="3.78" fill="#111"/><rect x="84.46" y="253.47" width="3.78" height="3.78" fill="#111"/><rect x="87.01" y="255.07" width="3.78" height="3.78" fill="#111"/><rect x="89.56" y="259.58" width="3.78" height="3.78" fill="#111"/><rect x="92.11" y="264.58" width="3.78" height="3.78" fill="#111"/><rect x="94.66" y="271.31" width="3.78" height="3.78" fill="#111"/><rect x="97.21" y="280.48" width="3.78" height="3.78" fill="#111"/><rect x="99.76" y="286.41" width="3.78" height="3.78" fill="#111"/><rect x="102.31" y="293.53" width="3.78" height="3.78" fill="#111"/><rect x="104.86" y="299.74" width="3.78" height="3.78" fill="#111"/><rect x="107.41" y="303.53" width="3.78" height="3.78" fill="#111"/><rect x="109.96" y="306" width="3.78" height="3.78" fill="#111"/><rect x="112.51" y="305.75" width="3.78" height="3.78" fill="#111"/><rect x="115.06" y="308.94" width="3.78" height="3.78" fill="#111"/><rect x="117.61" y="308.02" width="3.78" height="3.78" fill="#111"/><rect x="120.16" y="309.98" width="3.78" height="3.78" fill="#111"/><rect x="122.71" y="310.41" width="3.78" height="3.78" fill="#111"/><rect x="125.26" y="312.66" width="3.78" height="3.78" fill="#111"/><rect x="127.81" y="312.7" width="3.78" height="3.78" fill="#111"/><rect x="130.36" y="312.9" width="3.78" height="3.78" fill="#111"/><rect x="132.91" y="318.5" width="3.78" height="3.78" fill="#111"/><rect x="135.46" y="319.76" width="3.78" height="3.78" fill="#111"/><rect x="138.01" y="320.1" width="3.78" height="3.78" fill="#111"/><rect x="140.56" y="320.09" width="3.78" height="3.78" fill="#111"/><rect x="143.11" y="318.5" width="3.78" height="3.78" fill="#111"/><rect x="145.66" y="318.75" width="3.78" height="3.78" fill="#111"/><rect x="148.21" y="319.86" width="3.78" height="3.78" fill="#111"/><rect x="150.76" y="319.06" width="3.78" height="3.78" fill="#111"/><rect x="153.31" y="323.75" width="3.78" height="3.78" fill="#111"/><rect x="155.86" y="322.06" width="3.78" height="3.78" fill="#111"/><rect x="158.41" y="325.22" width="3.78" height="3.78" fill="#111"/><rect x="160.96" y="322.71" width="3.78" height="3.78" fill="#111"/><rect x="163.51" y="326.4" width="3.78" height="3.78" fill="#111"/><rect x="166.06" y="325.99" width="3.78" height="3.78" fill="#111"/><rect x="168.61" y="321.16" width="3.78" height="3.78" fill="#111"/><rect x="171.16" y="322.67" width="3.78" height="3.78" fill="#111"/><rect x="173.71" y="327.13" width="3.78" height="3.78" fill="#111"/><rect x="176.26" y="324.74" width="3.78" height="3.78" fill="#111"/><rect x="178.81" y="328" width="3.78" height="3.78" fill="#111"/><rect x="181.36" y="324.52" width="3.78" height="3.78" fill="#111"/><rect x="183.91" y="322.6" width="3.78" height="3.78" fill="#111"/><rect x="186.46" y="325.96" width="3.78" height="3.78" fill="#111"/><rect x="189.01" y="326.88" width="3.78" height="3.78" fill="#111"/><rect x="191.56" y="323.85" width="3.78" height="3.78" fill="#111"/><rect x="194.11" y="322.78" width="3.78" height="3.78" fill="#111"/><rect x="196.66" y="324.27" width="3.78" height="3.78" fill="#111"/><rect x="199.21" y="328.08" width="3.78" height="3.78" fill="#111"/><rect x="201.76" y="326.87" width="3.78" height="3.78" fill="#111"/><rect x="204.31" y="323.05" width="3.78" height="3.78" fill="#111"/><rect x="206.86" y="323.85" width="3.78" height="3.78" fill="#111"/><rect x="209.41" y="323" width="3.78" height="3.78" fill="#111"/><rect x="211.96" y="322.77" width="3.78" height="3.78" fill="#111"/><rect x="214.51" y="327.22" width="3.78" height="3.78" fill="#111"/><rect x="217.06" y="323.52" width="3.78" height="3.78" fill="#111"/><rect x="219.61" y="325.84" width="3.78" height="3.78" fill="#111"/><rect x="222.16" y="325.19" width="3.78" height="3.78" fill="#111"/><rect x="224.71" y="323.67" width="3.78" height="3.78" fill="#111"/><rect x="227.26" y="326.94" width="3.78" height="3.78" fill="#111"/><rect x="229.81" y="323.36" width="3.78" height="3.78" fill="#111"/><rect x="232.36" y="326.46" width="3.78" height="3.78" fill="#111"/>
<path d="M43.5 251.54 L46.05 252.02 L48.6 253.66 L51.15 250.84 L53.7 250.96 L56.25 253.31 L58.8 252.18 L61.35 251.54 L63.9 251.93 L66.45 251.59 L69 250.73 L71.55 253.63 L74.1 255.32 L76.65 254.5 L79.2 254.74 L81.75 253.53 L84.3 254.74 L86.85 255.27 L89.4 259.68 L91.95 263.02 L94.5 268.98 L97.05 278.05 L99.6 283.31 L102.15 292.49 L104.7 297.89 L107.25 304.45 L109.8 310.85 L112.35 315.29 L114.9 322.74 L117.45 324.61 L120 328.59 L122.55 329.83 L125.1 331.65 L127.65 335.35 L130.2 336.13 L132.75 339.37 L135.3 342.69 L137.85 344.62 L140.4 342.16 L142.95 340.77 L145.5 341.82 L148.05 340.58 L150.6 341.26 L153.15 343.03 L155.7 343.01 L158.25 340.44 L160.8 342.45 L163.35 342.16 L165.9 342.05 L168.45 340.89 L171 342.03 L173.55 340.75 L176.1 343.32 L178.65 343.16 L181.2 343.07 L183.75 342.09 L186.3 344.51 L188.85 341.92 L191.4 341.2 L193.95 341.94 L196.5 344.32 L199.05 340.99 L201.6 343.66 L204.15 344.43 L206.7 344.05 L209.25 342.35 L211.8 342.28 L214.35 344.13 L216.9 343.43 L219.45 343.85 L222 341.08 L224.55 342.98 L227.1 343.55 L229.65 341.35 L232.2 341.21 L234.75 344" fill="none" stroke="#f08080" stroke-width="0.5"/>
<circle cx="43.5" cy="251.54" r="2.21" fill="#e01010"/><circle cx="46.05" cy="252.02" r="2.21" fill="#e01010"/><circle cx="48.6" cy="253.66" r="2.21" fill="#e01010"/><circle cx="51.15" cy="250.84" r="2.21" fill="#e01010"/><circle cx="53.7" cy="250.96" r="2.21" fill="#e01010"/><circle cx="56.25" cy="253.31" r="2.21" fill="#e01010"/><circle cx="58.8" cy="252.18" r="2.21" fill="#e01010"/><circle cx="61.35" cy="251.54" r="2.21" fill="#e01010"/><circle cx="63.9" cy="251.93" r="2.21" fill="#e01010"/><circle cx="66.45" cy="251.59" r="2.21" fill="#e01010"/><circle cx="69" cy="250.73" r="2.21" fill="#e01010"/><circle cx="71.55" cy="253.63" r="2.21" fill="#e01010"/><circle cx="74.1" cy="255.32" r="2.21" fill="#e01010"/><circle cx="76.65" cy="254.5" r="2.21" fill="#e01010"/><circle cx="79.2" cy="254.74" r="2.21" fill="#e01010"/><circle cx="81.75" cy="253.53" r="2.21" fill="#e01010"/><circle cx="84.3" cy="254.74" r="2.21" fill="#e01010"/><circle cx="86.85" cy="255.27" r="2.21" fill="#e01010"/><circle cx="89.4" cy="259.68" r="2.21" fill="#e01010"/><circle cx="91.95" cy="263.02" r="2.21" fill="#e01010"/><circle cx="94.5" cy="268.98" r="2.21" fill="#e01010"/><circle cx="97.05" cy="278.05" r="2.21" fill="#e01010"/><circle cx="99.6" cy="283.31" r="2.21" fill="#e01010"/><circle cx="102.15" cy="292.49" r="2.21" fill="#e01010"/><circle cx="104.7" cy="297.89" r="2.21" fill="#e01010"/><circle cx="107.25" cy="304.45" r="2.21" fill="#e01010"/><circle cx="109.8" cy="310.85" r="2.21" fill="#e01010"/><circle cx="112.35" cy="315.29" r="2.21" fill="#e01010"/><circle cx="114.9" cy="322.74" r="2.21" fill="#e01010"/><circle cx="117.45" cy="324.61" r="2.21" fill="#e01010"/><circle cx="120" cy="328.59" r="2.21" fill="#e01010"/><circle cx="122.55" cy="329.83" r="2.21" fill="#e01010"/><circle cx="125.1" cy="331.65" r="2.21" fill="#e01010"/><circle cx="127.65" cy="335.35" r="2.21" fill="#e01010"/><circle cx="130.2" cy="336.13" r="2.21" fill="#e01010"/><circle cx="132.75" cy="339.37" r="2.21" fill="#e01010"/><circle cx="135.3" cy="342.69" r="2.21" fill="#e01010"/><circle cx="137.85" cy="344.62" r="2.21" fill="#e01010"/><circle cx="140.4" cy="342.16" r="2.21" fill="#e01010"/><circle cx="142.95" cy="340.77" r="2.21" fill="#e01010"/><circle cx="145.5" cy="341.82" r="2.21" fill="#e01010"/><circle cx="148.05" cy="340.58" r="2.21" fill="#e01010"/><circle cx="150.6" cy="341.26" r="2.21" fill="#e01010"/><circle cx="153.15" cy="343.03" r="2.21" fill="#e01010"/><circle cx="155.7" cy="343.01" r="2.21" fill="#e01010"/><circle cx="158.25" cy="340.44" r="2.21" fill="#e01010"/><circle cx="160.8" cy="342.45" r="2.21" fill="#e01010"/><circle cx="163.35" cy="342.16" r="2.21" fill="#e01010"/><circle cx="165.9" cy="342.05" r="2.21" fill="#e01010"/><circle cx="168.45" cy="340.89" r="2.21" fill="#e01010"/><circle cx="171" cy="342.03" r="2.21" fill="#e01010"/><circle cx="173.55" cy="340.75" r="2.21" fill="#e01010"/><circle cx="176.1" cy="343.32" r="2.21" fill="#e01010"/><circle cx="178.65" cy="343.16" r="2.21" fill="#e01010"/><circle cx="181.2" cy="343.07" r="2.21" fill="#e01010"/><circle cx="183.75" cy="342.09" r="2.21" fill="#e01010"/><circle cx="186.3" cy="344.51" r="2.21" fill="#e01010"/><circle cx="188.85" cy="341.92" r="2.21" fill="#e01010"/><circle cx="191.4" cy="341.2" r="2.21" fill="#e01010"/><circle cx="193.95" cy="341.94" r="2.21" fill="#e01010"/><circle cx="196.5" cy="344.32" r="2.21" fill="#e01010"/><circle cx="199.05" cy="340.99" r="2.21" fill="#e01010"/><circle cx="201.6" cy="343.66" r="2.21" fill="#e01010"/><circle cx="204.15" cy="344.43" r="2.21" fill="#e01010"/><circle cx="206.7" cy="344.05" r="2.21" fill="#e01010"/><circle cx="209.25" cy="342.35" r="2.21" fill="#e01010"/><circle cx="211.8" cy="342.28" r="2.21" fill="#e01010"/><circle cx="214.35" cy="344.13" r="2.21" fill="#e01010"/><circle cx="216.9" cy="343.43" r="2.21" fill="#e01010"/><circle cx="219.45" cy="343.85" r="2.21" fill="#e01010"/><circle cx="222" cy="341.08" r="2.21" fill="#e01010"/><circle cx="224.55" cy="342.98" r="2.21" fill="#e01010"/><circle cx="227.1" cy="343.55" r="2.21" fill="#e01010"/><circle cx="229.65" cy="341.35" r="2.21" fill="#e01010"/><circle cx="232.2" cy="341.21" r="2.21" fill="#e01010"/><circle cx="234.75" cy="344" r="2.21" fill="#e01010"/>
<path d="M44 248.55 L46.55 244.98 L49.1 249.48 L51.65 246.9 L54.2 246.44 L56.75 247.87 L59.3 245.3 L61.85 245.56 L64.4 247.05 L66.95 246.01 L69.5 248.77 L72.05 247.36 L74.6 247.28 L77.15 247.14 L79.7 247.37 L82.25 250.91 L84.8 253.04 L87.35 252.17 L89.9 257.5 L92.45 261.88 L95 270 L97.55 276.48 L100.1 285.37 L102.65 292.22 L105.2 299.84 L107.75 305.78 L110.3 310.57 L112.85 317.07 L115.4 326.53 L117.95 331.46 L120.5 336.2 L123.05 342.86 L125.6 345.69 L128.15 344.4 L130.7 346.27 L133.25 350.37 L135.8 353.19 L138.35 354.23 L140.9 354.86 L143.45 356.5 L146 356.93 L148.55 357.92 L151.1 360.34 L153.65 358.3 L156.2 361.13 L158.75 361.74 L161.3 359.95 L163.85 362.87 L166.4 360.68 L168.95 363.9 L171.5 363.1 L174.05 361.89 L176.6 362.42 L179.15 364 L181.7 361.59 L184.25 360.95 L186.8 362.91 L189.35 363.78 L191.9 360.81 L194.45 363.26 L197 361.78 L199.55 362.99 L202.1 362.17 L204.65 364.08 L207.2 362.6 L209.75 364.18 L212.3 364.18 L214.85 360.87 L217.4 364.12 L219.95 363.42 L222.5 360.98 L225.05 362.73 L227.6 361.53 L230.15 360.65 L232.7 360.71 L235.25 361.95" fill="none" stroke="#8080e0" stroke-width="0.5"/>
<path d="M44 246.18L46.38 250.45H41.62Z" fill="#1a1ad0"/><path d="M46.55 242.61L48.93 246.88H44.17Z" fill="#1a1ad0"/><path d="M49.1 247.1L51.48 251.38H46.72Z" fill="#1a1ad0"/><path d="M51.65 244.53L54.03 248.8H49.27Z" fill="#1a1ad0"/><path d="M54.2 244.06L56.58 248.34H51.82Z" fill="#1a1ad0"/><path d="M56.75 245.5L59.13 249.77H54.37Z" fill="#1a1ad0"/><path d="M59.3 242.93L61.68 247.2H56.92Z" fill="#1a1ad0"/><path d="M61.85 243.19L64.23 247.46H59.47Z" fill="#1a1ad0"/><path d="M64.4 244.67L66.78 248.95H62.02Z" fill="#1a1ad0"/><path d="M66.95 243.64L69.33 247.91H64.57Z" fill="#1a1ad0"/><path d="M69.5 246.4L71.88 250.67H67.12Z" fill="#1a1ad0"/><path d="M72.05 244.99L74.43 249.26H69.67Z" fill="#1a1ad0"/><path d="M74.6 244.91L76.98 249.18H72.22Z" fill="#1a1ad0"/><path d="M77.15 244.77L79.53 249.05H74.77Z" fill="#1a1ad0"/><path d="M79.7 244.99L82.08 249.27H77.32Z" fill="#1a1ad0"/><path d="M82.25 248.53L84.63 252.81H79.87Z" fill="#1a1ad0"/><path d="M84.8 250.66L87.18 254.94H82.42Z" fill="#1a1ad0"/><path d="M87.35 249.79L89.73 254.07H84.97Z" fill="#1a1ad0"/><path d="M89.9 255.12L92.28 259.4H87.52Z" fill="#1a1ad0"/><path d="M92.45 259.51L94.83 263.79H90.07Z" fill="#1a1ad0"/><path d="M95 267.62L97.38 271.9H92.62Z" fill="#1a1ad0"/><path d="M97.55 274.11L99.93 278.38H95.17Z" fill="#1a1ad0"/><path d="M100.1 282.99L102.48 287.27H97.72Z" fill="#1a1ad0"/><path d="M102.65 289.84L105.03 294.12H100.27Z" fill="#1a1ad0"/><path d="M105.2 297.46L107.58 301.74H102.82Z" fill="#1a1ad0"/><path d="M107.75 303.41L110.13 307.68H105.37Z" fill="#1a1ad0"/><path d="M110.3 308.2L112.68 312.47H107.92Z" fill="#1a1ad0"/><path d="M112.85 314.69L115.23 318.97H110.47Z" fill="#1a1ad0"/><path d="M115.4 324.15L117.78 328.43H113.02Z" fill="#1a1ad0"/><path d="M117.95 329.09L120.33 333.36H115.57Z" fill="#1a1ad0"/><path d="M120.5 333.83L122.88 338.1H118.12Z" fill="#1a1ad0"/><path d="M123.05 340.48L125.43 344.76H120.67Z" fill="#1a1ad0"/><path d="M125.6 343.31L127.98 347.59H123.22Z" fill="#1a1ad0"/><path d="M128.15 342.03L130.53 346.3H125.77Z" fill="#1a1ad0"/><path d="M130.7 343.9L133.08 348.17H128.32Z" fill="#1a1ad0"/><path d="M133.25 347.99L135.63 352.27H130.87Z" fill="#1a1ad0"/><path d="M135.8 350.81L138.18 355.09H133.42Z" fill="#1a1ad0"/><path d="M138.35 351.85L140.73 356.13H135.97Z" fill="#1a1ad0"/><path d="M140.9 352.48L143.28 356.76H138.52Z" fill="#1a1ad0"/><path d="M143.45 354.12L145.83 358.4H141.07Z" fill="#1a1ad0"/><path d="M146 354.56L148.38 358.83H143.62Z" fill="#1a1ad0"/><path d="M148.55 355.54L150.93 359.82H146.17Z" fill="#1a1ad0"/><path d="M151.1 357.96L153.48 362.24H148.72Z" fill="#1a1ad0"/><path d="M153.65 355.92L156.03 360.2H151.27Z" fill="#1a1ad0"/><path d="M156.2 358.75L158.58 363.03H153.82Z" fill="#1a1ad0"/><path d="M158.75 359.37L161.13 363.64H156.37Z" fill="#1a1ad0"/><path d="M161.3 357.57L163.68 361.85H158.92Z" fill="#1a1ad0"/><path d="M163.85 360.5L166.23 364.77H161.47Z" fill="#1a1ad0"/><path d="M166.4 358.31L168.78 362.58H164.02Z" fill="#1a1ad0"/><path d="M168.95 361.52L171.33 365.8H166.57Z" fill="#1a1ad0"/><path d="M171.5 360.73L173.88 365H169.12Z" fill="#1a1ad0"/><path d="M174.05 359.51L176.43 363.79H171.67Z" fill="#1a1ad0"/><path d="M176.6 360.04L178.98 364.32H174.22Z" fill="#1a1ad0"/><path d="M179.15 361.62L181.53 365.9H176.77Z" fill="#1a1ad0"/><path d="M181.7 359.21L184.08 363.49H179.32Z" fill="#1a1ad0"/><path d="M184.25 358.58L186.63 362.85H181.87Z" fill="#1a1ad0"/><path d="M186.8 360.54L189.18 364.81H184.42Z" fill="#1a1ad0"/><path d="M189.35 361.41L191.73 365.68H186.97Z" fill="#1a1ad0"/><path d="M191.9 358.44L194.28 362.71H189.52Z" fill="#1a1ad0"/><path d="M194.45 360.89L196.83 365.16H192.07Z" fill="#1a1ad0"/><path d="M197 359.4L199.38 363.68H194.62Z" fill="#1a1ad0"/><path d="M199.55 360.62L201.93 364.89H197.17Z" fill="#1a1ad0"/><path d="M202.1 359.79L204.48 364.07H199.72Z" fill="#1a1ad0"/><path d="M204.65 361.71L207.03 365.98H202.27Z" fill="#1a1ad0"/><path d="M207.2 360.23L209.58 364.5H204.82Z" fill="#1a1ad0"/><path d="M209.75 361.81L212.13 366.08H207.37Z" fill="#1a1ad0"/><path d="M212.3 361.81L214.68 366.09H209.92Z" fill="#1a1ad0"/><path d="M214.85 358.49L217.23 362.77H212.47Z" fill="#1a1ad0"/><path d="M217.4 361.75L219.78 366.02H215.02Z" fill="#1a1ad0"/><path d="M219.95 361.04L222.33 365.32H217.57Z" fill="#1a1ad0"/><path d="M222.5 358.6L224.88 362.88H220.12Z" fill="#1a1ad0"/><path d="M225.05 360.36L227.43 364.63H222.67Z" fill="#1a1ad0"/><path d="M227.6 359.15L229.98 363.43H225.22Z" fill="#1a1ad0"/><path d="M230.15 358.27L232.53 362.55H227.77Z" fill="#1a1ad0"/><path d="M232.7 358.33L235.08 362.61H230.32Z" fill="#1a1ad0"/><path d="M235.25 359.57L237.63 363.85H232.87Z" fill="#1a1ad0"/>
<path d="M44.5 250.22 L47.05 250.53 L49.6 248.72 L52.15 252.86 L54.7 251.4 L57.25 250.57 L59.8 252.34 L62.35 252.13 L64.9 253.35 L67.45 251.08 L70 248.57 L72.55 252.65 L75.1 251.39 L77.65 252.82 L80.2 250.1 L82.75 253.07 L85.3 255.97 L87.85 256.84 L90.4 260.59 L92.95 266.16 L95.5 271.86 L98.05 280.73 L100.6 287.84 L103.15 295.07 L105.7 299.62 L108.25 305.46 L110.8 312.55 L113.35 321.59 L115.9 328.14 L118.45 333.17 L121 337.6 L123.55 343.75 L126.1 342.21 L128.65 345.89 L131.2 350.41 L133.75 351.29 L136.3 348.54 L138.85 351.33 L141.4 357.16 L143.95 356.14 L146.5 354.69 L149.05 357.68 L151.6 359.86 L154.15 361.09 L156.7 359.87 L159.25 360.23 L161.8 357.74 L164.35 357.65 L166.9 355.81 L169.45 356.54 L172 361.12 L174.55 355.7 L177.1 358.64 L179.65 361.39 L182.2 359.86 L184.75 363.12 L187.3 361.05 L189.85 358.2 L192.4 360.15 L194.95 364.68 L197.5 363.2 L200.05 365.32 L202.6 365.43 L205.15 367.51 L207.7 365.33 L210.25 367.79 L212.8 363.81 L215.35 365.27 L217.9 366.34 L220.45 368.25 L223 368.93 L225.55 363.88 L228.1 367.52 L230.65 369.73 L233.2 364.89" fill="none" stroke="#90f090" stroke-width="0.5"/>
<path d="M44.5 252.6L46.88 248.32H42.12Z" fill="#30e030"/><path d="M47.05 252.91L49.43 248.63H44.67Z" fill="#30e030"/><path d="M49.6 251.1L51.98 246.82H47.22Z" fill="#30e030"/><path d="M52.15 255.23L54.53 250.96H49.77Z" fill="#30e030"/><path d="M54.7 253.77L57.08 249.5H52.32Z" fill="#30e030"/><path d="M57.25 252.95L59.63 248.67H54.87Z" fill="#30e030"/><path d="M59.8 254.71L62.18 250.44H57.42Z" fill="#30e030"/><path d="M62.35 254.51L64.73 250.23H59.97Z" fill="#30e030"/><path d="M64.9 255.73L67.28 251.45H62.52Z" fill="#30e030"/><path d="M67.45 253.46L69.83 249.18H65.07Z" fill="#30e030"/><path d="M70 250.94L72.38 246.67H67.62Z" fill="#30e030"/><path d="M72.55 255.03L74.93 250.75H70.17Z" fill="#30e030"/><path d="M75.1 253.77L77.48 249.49H72.72Z" fill="#30e030"/><path d="M77.65 255.2L80.03 250.92H75.27Z" fill="#30e030"/><path d="M80.2 252.48L82.58 248.2H77.82Z" fill="#30e030"/><path d="M82.75 255.44L85.13 251.17H80.37Z" fill="#30e030"/><path d="M85.3 258.35L87.68 254.07H82.92Z" fill="#30e030"/><path d="M87.85 259.22L90.23 254.94H85.47Z" fill="#30e030"/><path d="M90.4 262.97L92.78 258.69H88.02Z" fill="#30e030"/><path d="M92.95 268.53L95.33 264.26H90.57Z" fill="#30e030"/><path d="M95.5 274.24L97.88 269.96H93.12Z" fill="#30e030"/><path d="M98.05 283.11L100.43 278.83H95.67Z" fill="#30e030"/><path d="M100.6 290.22L102.98 285.94H98.22Z" fill="#30e030"/><path d="M103.15 297.45L105.53 293.17H100.77Z" fill="#30e030"/><path d="M105.7 302L108.08 297.72H103.32Z" fill="#30e030"/><path d="M108.25 307.84L110.63 303.56H105.87Z" fill="#30e030"/><path d="M110.8 314.92L113.18 310.64H108.42Z" fill="#30e030"/><path d="M113.35 323.96L115.73 319.69H110.97Z" fill="#30e030"/><path d="M115.9 330.52L118.28 326.24H113.52Z" fill="#30e030"/><path d="M118.45 335.55L120.83 331.27H116.07Z" fill="#30e030"/><path d="M121 339.98L123.38 335.7H118.62Z" fill="#30e030"/><path d="M123.55 346.13L125.93 341.85H121.17Z" fill="#30e030"/><path d="M126.1 344.59L128.48 340.31H123.72Z" fill="#30e030"/><path d="M128.65 348.26L131.03 343.99H126.27Z" fill="#30e030"/><path d="M131.2 352.78L133.58 348.51H128.82Z" fill="#30e030"/><path d="M133.75 353.66L136.13 349.39H131.37Z" fill="#30e030"/><path d="M136.3 350.91L138.68 346.64H133.92Z" fill="#30e030"/><path d="M138.85 353.71L141.23 349.43H136.47Z" fill="#30e030"/><path d="M141.4 359.54L143.78 355.26H139.02Z" fill="#30e030"/><path d="M143.95 358.52L146.33 354.24H141.57Z" fill="#30e030"/><path d="M146.5 357.07L148.88 352.79H144.12Z" fill="#30e030"/><path d="M149.05 360.05L151.43 355.77H146.67Z" fill="#30e030"/><path d="M151.6 362.23L153.98 357.96H149.22Z" fill="#30e030"/><path d="M154.15 363.47L156.53 359.19H151.77Z" fill="#30e030"/><path d="M156.7 362.24L159.08 357.97H154.32Z" fill="#30e030"/><path d="M159.25 362.6L161.63 358.33H156.87Z" fill="#30e030"/><path d="M161.8 360.12L164.18 355.84H159.42Z" fill="#30e030"/><path d="M164.35 360.02L166.73 355.75H161.97Z" fill="#30e030"/><path d="M166.9 358.18L169.28 353.9H164.52Z" fill="#30e030"/><path d="M169.45 358.91L171.83 354.63H167.07Z" fill="#30e030"/><path d="M172 363.5L174.38 359.22H169.62Z" fill="#30e030"/><path d="M174.55 358.08L176.93 353.8H172.17Z" fill="#30e030"/><path d="M177.1 361.02L179.48 356.74H174.72Z" fill="#30e030"/><path d="M179.65 363.77L182.03 359.49H177.27Z" fill="#30e030"/><path d="M182.2 362.23L184.58 357.95H179.82Z" fill="#30e030"/><path d="M184.75 365.49L187.13 361.22H182.37Z" fill="#30e030"/><path d="M187.3 363.43L189.68 359.15H184.92Z" fill="#30e030"/><path d="M189.85 360.57L192.23 356.3H187.47Z" fill="#30e030"/><path d="M192.4 362.52L194.78 358.25H190.02Z" fill="#30e030"/><path d="M194.95 367.05L197.33 362.78H192.57Z" fill="#30e030"/><path d="M197.5 365.58L199.88 361.3H195.12Z" fill="#30e030"/><path d="M200.05 367.7L202.43 363.42H197.67Z" fill="#30e030"/><path d="M202.6 367.8L204.98 363.52H200.22Z" fill="#30e030"/><path d="M205.15 369.88L207.53 365.61H202.77Z" fill="#30e030"/><path d="M207.7 367.7L210.08 363.42H205.32Z" fill="#30e030"/><path d="M210.25 370.16L212.63 365.88H207.87Z" fill="#30e030"/><path d="M212.8 366.19L215.18 361.91H210.42Z" fill="#30e030"/><path d="M215.35 367.65L217.73 363.37H212.97Z" fill="#30e030"/><path d="M217.9 368.72L220.28 364.44H215.52Z" fill="#30e030"/><path d="M220.45 370.63L222.83 366.35H218.07Z" fill="#30e030"/><path d="M223 371.31L225.38 367.03H220.62Z" fill="#30e030"/><path d="M225.55 366.25L227.93 361.98H223.17Z" fill="#30e030"/><path d="M228.1 369.9L230.48 365.62H225.72Z" fill="#30e030"/><path d="M230.65 372.1L233.03 367.83H228.27Z" fill="#30e030"/><path d="M233.2 367.26L235.58 362.98H230.82Z" fill="#30e030"/>
<path d="M45 249.53 L47.55 250.7 L50.1 246.49 L52.65 251.78 L55.2 250.39 L57.75 250.63 L60.3 251.9 L62.85 249.01 L65.4 251.86 L67.95 251.24 L70.5 248.09 L73.05 251.66 L75.6 251.21 L78.15 253.11 L80.7 253.75 L83.25 253.3 L85.8 254.28 L88.35 256.87 L90.9 258.87 L93.45 265.12 L96 273.46 L98.55 281.17 L101.1 289.43 L103.65 295.69 L106.2 301.22 L108.75 308.87 L111.3 313.14 L113.85 319.65 L116.4 333.08 L118.95 336.68 L121.5 339.9 L124.05 342.37 L126.6 341.38 L129.15 346.08 L131.7 346.45 L134.25 348.41 L136.8 351.68 L139.35 349.88 L141.9 357.33 L144.45 353.11 L147 353.32 L149.55 358.85 L152.1 358.1 L154.65 358.64 L157.2 362.89 L159.75 362.16 L162.3 363.94 L164.85 364.95 L167.4 359.4 L169.95 362.15 L172.5 361.05 L175.05 360.81 L177.6 361.55 L180.15 362.79 L182.7 364.46 L185.25 366.88 L187.8 369.96 L190.35 369.81 L192.9 363.6 L195.45 365.7 L198 372.06 L200.55 372.56 L203.1 369.14 L205.65 366.36 L208.2 364.92 L210.75 364.47 L213.3 372 L215.85 370.41 L218.4 368.56 L220.95 368.94 L223.5 366.43 L226.05 367.64 L228.6 365.02 L231.15 369.12 L233.7 368.07" fill="none" stroke="#f080f0" stroke-width="0.5"/>
<path d="M45 247.04L47.48 249.53L45 252.01L42.52 249.53Z" fill="#d414d4"/><path d="M47.55 248.21L50.03 250.7L47.55 253.18L45.07 250.7Z" fill="#d414d4"/><path d="M50.1 244.01L52.58 246.49L50.1 248.98L47.62 246.49Z" fill="#d414d4"/><path d="M52.65 249.3L55.13 251.78L52.65 254.27L50.17 251.78Z" fill="#d414d4"/><path d="M55.2 247.91L57.68 250.39L55.2 252.88L52.72 250.39Z" fill="#d414d4"/><path d="M57.75 248.14L60.23 250.63L57.75 253.11L55.27 250.63Z" fill="#d414d4"/><path d="M60.3 249.42L62.78 251.9L60.3 254.39L57.82 251.9Z" fill="#d414d4"/><path d="M62.85 246.52L65.33 249.01L62.85 251.49L60.37 249.01Z" fill="#d414d4"/><path d="M65.4 249.37L67.88 251.86L65.4 254.34L62.92 251.86Z" fill="#d414d4"/><path d="M67.95 248.76L70.43 251.24L67.95 253.73L65.47 251.24Z" fill="#d414d4"/><path d="M70.5 245.6L72.98 248.09L70.5 250.57L68.02 248.09Z" fill="#d414d4"/><path d="M73.05 249.17L75.53 251.66L73.05 254.14L70.57 251.66Z" fill="#d414d4"/><path d="M75.6 248.73L78.08 251.21L75.6 253.69L73.12 251.21Z" fill="#d414d4"/><path d="M78.15 250.63L80.63 253.11L78.15 255.6L75.67 253.11Z" fill="#d414d4"/><path d="M80.7 251.27L83.18 253.75L80.7 256.24L78.22 253.75Z" fill="#d414d4"/><path d="M83.25 250.81L85.73 253.3L83.25 255.78L80.77 253.3Z" fill="#d414d4"/><path d="M85.8 251.8L88.28 254.28L85.8 256.76L83.32 254.28Z" fill="#d414d4"/><path d="M88.35 254.39L90.83 256.87L88.35 259.35L85.87 256.87Z" fill="#d414d4"/><path d="M90.9 256.38L93.38 258.87L90.9 261.35L88.42 258.87Z" fill="#d414d4"/><path d="M93.45 262.64L95.93 265.12L93.45 267.6L90.97 265.12Z" fill="#d414d4"/><path d="M96 270.98L98.48 273.46L96 275.95L93.52 273.46Z" fill="#d414d4"/><path d="M98.55 278.69L101.03 281.17L98.55 283.66L96.07 281.17Z" fill="#d414d4"/><path d="M101.1 286.95L103.58 289.43L101.1 291.91L98.62 289.43Z" fill="#d414d4"/><path d="M103.65 293.21L106.13 295.69L103.65 298.18L101.17 295.69Z" fill="#d414d4"/><path d="M106.2 298.73L108.68 301.22L106.2 303.7L103.72 301.22Z" fill="#d414d4"/><path d="M108.75 306.39L111.23 308.87L108.75 311.36L106.27 308.87Z" fill="#d414d4"/><path d="M111.3 310.65L113.78 313.14L111.3 315.62L108.82 313.14Z" fill="#d414d4"/><path d="M113.85 317.16L116.33 319.65L113.85 322.13L111.37 319.65Z" fill="#d414d4"/><path d="M116.4 330.6L118.88 333.08L116.4 335.56L113.92 333.08Z" fill="#d414d4"/><path d="M118.95 334.2L121.43 336.68L118.95 339.17L116.47 336.68Z" fill="#d414d4"/><path d="M121.5 337.42L123.98 339.9L121.5 342.38L119.02 339.9Z" fill="#d414d4"/><path d="M124.05 339.89L126.53 342.37L124.05 344.86L121.57 342.37Z" fill="#d414d4"/><path d="M126.6 338.9L129.08 341.38L126.6 343.87L124.12 341.38Z" fill="#d414d4"/><path d="M129.15 343.59L131.63 346.08L129.15 348.56L126.67 346.08Z" fill="#d414d4"/><path d="M131.7 343.97L134.18 346.45L131.7 348.93L129.22 346.45Z" fill="#d414d4"/><path d="M134.25 345.93L136.73 348.41L134.25 350.9L131.77 348.41Z" fill="#d414d4"/><path d="M136.8 349.19L139.28 351.68L136.8 354.16L134.32 351.68Z" fill="#d414d4"/><path d="M139.35 347.39L141.83 349.88L139.35 352.36L136.87 349.88Z" fill="#d414d4"/><path d="M141.9 354.85L144.38 357.33L141.9 359.82L139.42 357.33Z" fill="#d414d4"/><path d="M144.45 350.62L146.93 353.11L144.45 355.59L141.97 353.11Z" fill="#d414d4"/><path d="M147 350.84L149.48 353.32L147 355.81L144.52 353.32Z" fill="#d414d4"/><path d="M149.55 356.36L152.03 358.85L149.55 361.33L147.07 358.85Z" fill="#d414d4"/><path d="M152.1 355.61L154.58 358.1L152.1 360.58L149.62 358.1Z" fill="#d414d4"/><path d="M154.65 356.16L157.13 358.64L154.65 361.13L152.17 358.64Z" fill="#d414d4"/><path d="M157.2 360.41L159.68 362.89L157.2 365.38L154.72 362.89Z" fill="#d414d4"/><path d="M159.75 359.67L162.23 362.16L159.75 364.64L157.27 362.16Z" fill="#d414d4"/><path d="M162.3 361.45L164.78 363.94L162.3 366.42L159.82 363.94Z" fill="#d414d4"/><path d="M164.85 362.47L167.33 364.95L164.85 367.43L162.37 364.95Z" fill="#d414d4"/><path d="M167.4 356.92L169.88 359.4L167.4 361.89L164.92 359.4Z" fill="#d414d4"/><path d="M169.95 359.66L172.43 362.15L169.95 364.63L167.47 362.15Z" fill="#d414d4"/><path d="M172.5 358.56L174.98 361.05L172.5 363.53L170.02 361.05Z" fill="#d414d4"/><path d="M175.05 358.33L177.53 360.81L175.05 363.3L172.57 360.81Z" fill="#d414d4"/><path d="M177.6 359.07L180.08 361.55L177.6 364.04L175.12 361.55Z" fill="#d414d4"/><path d="M180.15 360.31L182.63 362.79L180.15 365.28L177.67 362.79Z" fill="#d414d4"/><path d="M182.7 361.97L185.18 364.46L182.7 366.94L180.22 364.46Z" fill="#d414d4"/><path d="M185.25 364.4L187.73 366.88L185.25 369.37L182.77 366.88Z" fill="#d414d4"/><path d="M187.8 367.47L190.28 369.96L187.8 372.44L185.32 369.96Z" fill="#d414d4"/><path d="M190.35 367.32L192.83 369.81L190.35 372.29L187.87 369.81Z" fill="#d414d4"/><path d="M192.9 361.12L195.38 363.6L192.9 366.09L190.42 363.6Z" fill="#d414d4"/><path d="M195.45 363.22L197.93 365.7L195.45 368.19L192.97 365.7Z" fill="#d414d4"/><path d="M198 369.58L200.48 372.06L198 374.55L195.52 372.06Z" fill="#d414d4"/><path d="M200.55 370.07L203.03 372.56L200.55 375.04L198.07 372.56Z" fill="#d414d4"/><path d="M203.1 366.65L205.58 369.14L203.1 371.62L200.62 369.14Z" fill="#d414d4"/><path d="M205.65 363.88L208.13 366.36L205.65 368.84L203.17 366.36Z" fill="#d414d4"/><path d="M208.2 362.43L210.68 364.92L208.2 367.4L205.72 364.92Z" fill="#d414d4"/><path d="M210.75 361.99L213.23 364.47L210.75 366.96L208.27 364.47Z" fill="#d414d4"/><path d="M213.3 369.52L215.78 372L213.3 374.48L210.82 372Z" fill="#d414d4"/><path d="M215.85 367.92L218.33 370.41L215.85 372.89L213.37 370.41Z" fill="#d414d4"/><path d="M218.4 366.08L220.88 368.56L218.4 371.04L215.92 368.56Z" fill="#d414d4"/><path d="M220.95 366.45L223.43 368.94L220.95 371.42L218.47 368.94Z" fill="#d414d4"/><path d="M223.5 363.94L225.98 366.43L223.5 368.91L221.02 366.43Z" fill="#d414d4"/><path d="M226.05 365.16L228.53 367.64L226.05 370.13L223.57 367.64Z" fill="#d414d4"/><path d="M228.6 362.54L231.08 365.02L228.6 367.51L226.12 365.02Z" fill="#d414d4"/><path d="M231.15 366.64L233.63 369.12L231.15 371.61L228.67 369.12Z" fill="#d414d4"/><path d="M233.7 365.59L236.18 368.07L233.7 370.56L231.22 368.07Z" fill="#d414d4"/>
<path d="M121.8 242.2h20" stroke="#777" stroke-width="0.8"/><rect x="129.65" y="240.45" width="3.5" height="3.5" fill="#111"/>
<text transform="translate(143.4 244.9) scale(1 1.07)" font-size="8.75" text-anchor="start" fill="#1a1a1a" stroke="#1a1a1a" stroke-width="0.2" >Pulse interval: 0 ps</text>
<path d="M121.8 252.9h20" stroke="#f08080" stroke-width="0.8"/><circle cx="131.4" cy="252.9" r="2.05" fill="#e01010"/>
<text transform="translate(143.4 255.6) scale(1 1.07)" font-size="8.75" text-anchor="start" fill="#1a1a1a" stroke="#1a1a1a" stroke-width="0.2" >Pulse interval: 0.1 ps</text>
<path d="M121.8 263.8h20" stroke="#8080e0" stroke-width="0.8"/><path d="M131.4 261.6L133.6 265.56H129.2Z" fill="#1a1ad0"/>
<text transform="translate(143.4 266.5) scale(1 1.07)" font-size="8.75" text-anchor="start" fill="#1a1a1a" stroke="#1a1a1a" stroke-width="0.2" >Pulse interval: 0.2 ps</text>
<path d="M121.8 274.6h20" stroke="#90f090" stroke-width="0.8"/><path d="M131.4 276.8L133.6 272.84H129.2Z" fill="#30e030"/>
<text transform="translate(143.4 277.3) scale(1 1.07)" font-size="8.75" text-anchor="start" fill="#1a1a1a" stroke="#1a1a1a" stroke-width="0.2" >Pulse interval: 0.4 ps</text>
<path d="M121.8 285.3h20" stroke="#f080f0" stroke-width="0.8"/><path d="M131.4 283L133.7 285.3L131.4 287.6L129.1 285.3Z" fill="#d414d4"/>
<text transform="translate(143.4 288) scale(1 1.07)" font-size="8.75" text-anchor="start" fill="#1a1a1a" stroke="#1a1a1a" stroke-width="0.2" >Pulse interval: 1 ps</text>
<path d="M323.9 384.5v-3M323.9 228.6v3M384.4 384.5v-3M384.4 228.6v3M444.9 384.5v-3M444.9 228.6v3M505.4 384.5v-3M505.4 228.6v3M354.15 384.5v-1.8M354.15 228.6v1.8M414.65 384.5v-1.8M414.65 228.6v1.8M475.15 384.5v-1.8M475.15 228.6v1.8M317.5 228.6h3M511.3 228.6h-3M317.5 248.09h3M511.3 248.09h-3M317.5 267.57h3M511.3 267.57h-3M317.5 287.06h3M511.3 287.06h-3M317.5 306.55h3M511.3 306.55h-3M317.5 326.04h3M511.3 326.04h-3M317.5 345.52h3M511.3 345.52h-3M317.5 365.01h3M511.3 365.01h-3M317.5 384.5h3M511.3 384.5h-3M317.5 238.34h1.8M511.3 238.34h-1.8M317.5 257.83h1.8M511.3 257.83h-1.8M317.5 277.32h1.8M511.3 277.32h-1.8M317.5 296.81h1.8M511.3 296.81h-1.8M317.5 316.29h1.8M511.3 316.29h-1.8M317.5 335.78h1.8M511.3 335.78h-1.8M317.5 355.27h1.8M511.3 355.27h-1.8M317.5 374.76h1.8M511.3 374.76h-1.8" stroke="#111" stroke-width="1" fill="none"/>
<rect x="317.5" y="228.6" width="193.8" height="155.9" fill="none" stroke="#111" stroke-width="1.4"/>
<text transform="translate(323.9 394.3) scale(1 1.1)" font-size="8.5" text-anchor="middle" fill="#1a1a1a" stroke="#1a1a1a" stroke-width="0.2" >0</text>
<text transform="translate(384.4 394.3) scale(1 1.1)" font-size="8.5" text-anchor="middle" fill="#1a1a1a" stroke="#1a1a1a" stroke-width="0.2" >1</text>
<text transform="translate(444.9 394.3) scale(1 1.1)" font-size="8.5" text-anchor="middle" fill="#1a1a1a" stroke="#1a1a1a" stroke-width="0.2" >2</text>
<text transform="translate(505.4 394.3) scale(1 1.1)" font-size="8.5" text-anchor="middle" fill="#1a1a1a" stroke="#1a1a1a" stroke-width="0.2" >3</text>
<text transform="translate(313.6 230.9) scale(1 1.07)" font-size="8.5" text-anchor="end" fill="#1a1a1a" stroke="#1a1a1a" stroke-width="0.2" >-0.09</text>
<text transform="translate(313.6 250.39) scale(1 1.07)" font-size="8.5" text-anchor="end" fill="#1a1a1a" stroke="#1a1a1a" stroke-width="0.2" >-0.10</text>
<text transform="translate(313.6 269.88) scale(1 1.07)" font-size="8.5" text-anchor="end" fill="#1a1a1a" stroke="#1a1a1a" stroke-width="0.2" >-0.11</text>
<text transform="translate(313.6 289.36) scale(1 1.07)" font-size="8.5" text-anchor="end" fill="#1a1a1a" stroke="#1a1a1a" stroke-width="0.2" >-0.12</text>
<text transform="translate(313.6 308.85) scale(1 1.07)" font-size="8.5" text-anchor="end" fill="#1a1a1a" stroke="#1a1a1a" stroke-width="0.2" >-0.13</text>
<text transform="translate(313.6 328.34) scale(1 1.07)" font-size="8.5" text-anchor="end" fill="#1a1a1a" stroke="#1a1a1a" stroke-width="0.2" >-0.14</text>
<text transform="translate(313.6 347.82) scale(1 1.07)" font-size="8.5" text-anchor="end" fill="#1a1a1a" stroke="#1a1a1a" stroke-width="0.2" >-0.15</text>
<text transform="translate(313.6 367.31) scale(1 1.07)" font-size="8.5" text-anchor="end" fill="#1a1a1a" stroke="#1a1a1a" stroke-width="0.2" >-0.16</text>
<text transform="translate(313.6 386.8) scale(1 1.07)" font-size="8.5" text-anchor="end" fill="#1a1a1a" stroke="#1a1a1a" stroke-width="0.2" >-0.17</text>
<text x="414.4" y="411.2" font-size="10.3" text-anchor="middle" fill="#1a1a1a" stroke="#1a1a1a" stroke-width="0.2" >Pulse interval [ps]</text>
<text transform="translate(289.9 306.2) rotate(-90)" font-size="10.2" text-anchor="middle" fill="#1a1a1a" stroke="#1a1a1a" stroke-width="0.2">Δintensity</text>
<text x="271" y="231.2" font-size="17" text-anchor="start" fill="#111" stroke="#111" stroke-width="0.2" font-weight="bold">(d)</text>
<path d="M323.9 253 L324.5 260.11 L325.11 266.68 L325.71 272.77 L326.32 278.39 L326.92 283.59 L327.53 288.4 L328.13 292.85 L328.74 296.96 L329.34 300.77 L329.95 304.29 L330.55 307.54 L331.16 310.55 L331.76 313.34 L332.37 315.91 L332.97 318.29 L333.58 320.5 L334.19 322.53 L334.79 324.42 L335.39 326.16 L336 327.77 L336.6 329.26 L337.21 330.64 L337.81 331.91 L338.42 333.09 L339.02 334.18 L339.63 335.19 L340.23 336.12 L340.84 336.99 L341.44 337.78 L342.05 338.52 L342.65 339.2 L343.26 339.83 L343.87 340.42 L344.47 340.96 L345.07 341.46 L345.68 341.92 L346.28 342.35 L346.89 342.74 L347.5 343.11 L348.1 343.44 L348.7 343.76 L349.31 344.04 L349.91 344.31 L350.52 344.56 L351.12 344.79 L351.73 345 L352.33 345.19 L352.94 345.38 L353.55 345.54 L354.15 345.7 L354.75 345.84 L355.36 345.97 L355.96 346.09 L356.57 346.21 L357.18 346.31 L357.78 346.41 L358.38 346.5 L358.99 346.58 L359.6 346.66 L360.2 346.73 L360.81 346.79 L361.41 346.85 L362.01 346.91 L362.62 346.96 L363.23 347.01 L363.83 347.05 L364.44 347.1 L365.04 347.13 L365.64 347.17 L366.25 347.2 L366.86 347.23 L367.46 347.26 L368.06 347.28 L368.67 347.31 L369.27 347.33 L369.88 347.35 L370.49 347.37 L371.09 347.39 L371.69 347.4 L372.3 347.42 L378.35 347.52 L384.4 347.56 L390.45 347.58 L396.5 347.59 L402.55 347.6 L408.6 347.6 L414.65 347.6 L420.7 347.6 L426.75 347.6 L432.8 347.6 L438.85 347.6 L444.9 347.6 L450.95 347.6 L457 347.6 L463.05 347.6 L469.1 347.6 L475.15 347.6 L481.2 347.6 L487.25 347.6 L493.3 347.6 L499.35 347.6 L505.4 347.6 L511.15 347.6" fill="none" stroke="#d81e34" stroke-width="1.5"/>
<path d="M323.9 249.4V258.6M322.7 249.4h2.4M322.7 258.6h2.4" stroke="#d06070" stroke-width="0.7"/>
<circle cx="323.9" cy="254" r="2" fill="#cc1030"/>
<path d="M329.95 289.3V300.9M328.75 289.3h2.4M328.75 300.9h2.4" stroke="#d06070" stroke-width="0.7"/>
<circle cx="329.95" cy="295" r="2" fill="#cc1030"/>
<path d="M336 345.4V356.4M334.8 345.4h2.4M334.8 356.4h2.4" stroke="#d06070" stroke-width="0.7"/>
<circle cx="336" cy="351.1" r="2" fill="#cc1030"/>
<path d="M348.1 341.4V368.6M346.9 341.4h2.4M346.9 368.6h2.4" stroke="#d06070" stroke-width="0.7"/>
<circle cx="348.1" cy="355.2" r="2" fill="#cc1030"/>
<path d="M384.4 349.4V368.7M383.2 349.4h2.4M383.2 368.7h2.4" stroke="#d06070" stroke-width="0.7"/>
<circle cx="384.4" cy="358.9" r="2" fill="#cc1030"/>
<path d="M444.9 344.3V355.3M443.7 344.3h2.4M443.7 355.3h2.4" stroke="#d06070" stroke-width="0.7"/>
<circle cx="444.9" cy="349.4" r="2" fill="#cc1030"/>
<path d="M505.4 342.3V357M504.2 342.3h2.4M504.2 357h2.4" stroke="#d06070" stroke-width="0.7"/>
<circle cx="505.4" cy="349.2" r="2" fill="#cc1030"/>
<circle cx="435.2" cy="246.7" r="1.8" fill="#cc1030"/>
<text x="448" y="249.8" font-size="8.6" text-anchor="start" fill="#d02040" stroke="#d02040" stroke-width="0.2" >110 diffraction</text>
<text x="364.4" y="339.2" font-size="8.95" fill="#d02040" stroke="#d02040" stroke-width="0.15"><tspan font-style="italic">τ</tspan> = 119 ± 32 fs</text>
</svg></body></html>
